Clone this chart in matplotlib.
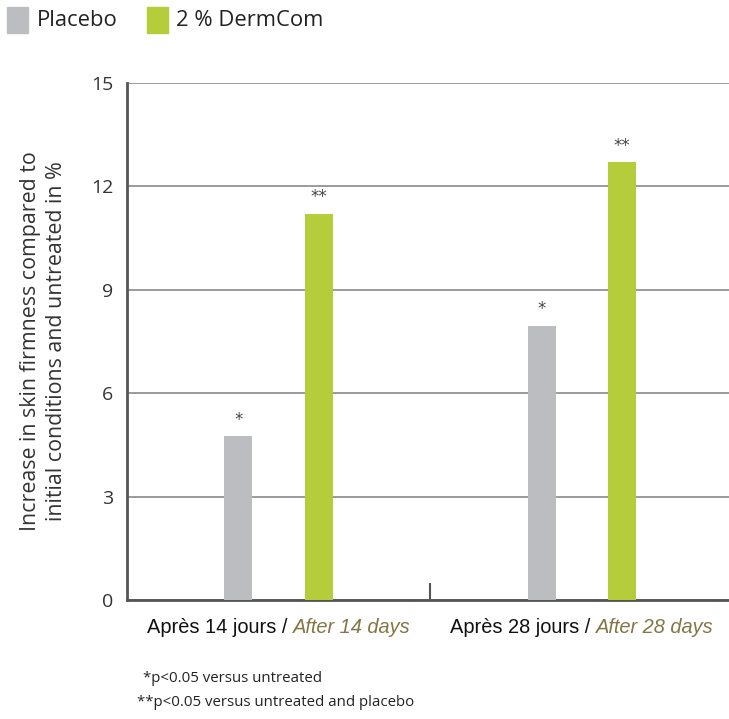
import numpy as np
import matplotlib
matplotlib.use('Agg')
import matplotlib.pyplot as plt
from matplotlib.patches import Rectangle

groups = ['Après 14 jours / ', 'Après 28 jours / ']
groupsEn = ['After 14 days', 'After 28 days']
seriesNames = ['Placebo', '2 % DermCom']
placebo = [4.75, 7.95]
dermcom = [11.2, 12.7]
placeboStars = ['*', '*']
dermcomStars = ['**', '**']
yTicks = [0, 3, 6, 9, 12, 15]
footnotes = ['*p<0.05 versus untreated', '**p<0.05 versus untreated and placebo']

greyColor = '#bcbdc0'
greenColor = '#b5cd3a'
olive = '#857543'

W, H = 729, 719
fig = plt.figure(figsize=(W / 100, H / 100), dpi=100)
fig.patch.set_facecolor('white')

axLeft, axRight, axTop, axBottom = 127, 729, 83, 600
ax = fig.add_axes([axLeft / W, 1 - axBottom / H, (axRight - axLeft) / W, (axBottom - axTop) / H])

x = np.arange(len(groups))
barWidth = 0.092
offset = 0.133
ax.bar(x - offset, placebo, barWidth, color=greyColor, zorder=3)
ax.bar(x + offset, dermcom, barWidth, color=greenColor, zorder=3)

for i in range(len(groups)):
    ax.text(x[i] - offset, placebo[i] + 0.22, placeboStars[i], ha='center', va='bottom',
            fontsize=12, color='#444444', family='DejaVu Sans')
    ax.text(x[i] + offset, dermcom[i] + 0.22, dermcomStars[i], ha='center', va='bottom',
            fontsize=12, color='#444444', family='DejaVu Sans')

ax.set_xlim(-0.5, 1.485)
ax.set_ylim(0, 15)
ax.set_yticks(yTicks)
ax.set_yticklabels([str(t) for t in yTicks], family='Open Sans', fontsize=14, color='#333333')
ax.tick_params(axis='y', length=0, pad=10)
ax.yaxis.grid(True, color='#8a8a8a', linewidth=1.2, zorder=0)
ax.set_axisbelow(True)

ax.set_xticks([0.5])
ax.set_xticklabels([''])
ax.tick_params(axis='x', direction='in', length=12, width=1.5, color='#555555')

for s in ['top', 'right']:
    ax.spines[s].set_visible(False)
for s in ['left', 'bottom']:
    ax.spines[s].set_color('#555555')
    ax.spines[s].set_linewidth(2)

ax.set_ylabel('Increase in skin firmness compared to\ninitial conditions and untreated in %',
              family='Open Sans', fontsize=15.4, color='#333333', labelpad=17, linespacing=1.3)

# category labels, french part plain + english part italic olive
for i in range(len(groups)):
    t1 = fig.text(0, 0, groups[i], family='Liberation Sans', fontsize=14.4, color='#111111')
    t2 = fig.text(0, 0, groupsEn[i], family='Liberation Sans', fontsize=14.4, style='italic', color=olive)
    fig.canvas.draw()
    r = fig.canvas.get_renderer()
    w1 = t1.get_window_extent(r).width
    w2 = t2.get_window_extent(r).width
    cx = ax.transData.transform((x[i], 0))[0]
    ypix = H - 633
    start = cx - (w1 + w2) / 2
    t1.set_position((start / W, ypix / H))
    t2.set_position(((start + w1) / W, ypix / H))

# legend at the top
fig.add_artist(Rectangle((7 / W, 1 - 33 / H), 21 / W, 26 / H, color=greyColor, transform=fig.transFigure))
fig.text(37 / W, 1 - 20 / H, seriesNames[0], family='Open Sans', fontsize=15.8, color='#222222', va='center')
fig.add_artist(Rectangle((147 / W, 1 - 33 / H), 21 / W, 26 / H, color=greenColor, transform=fig.transFigure))
fig.text(176 / W, 1 - 20 / H, seriesNames[1], family='Open Sans', fontsize=15.8, color='#222222', va='center')

fig.text(143 / W, 1 - 678 / H, footnotes[0], family='Open Sans', fontsize=10.8, color='#222222', va='center')
fig.text(137 / W, 1 - 702 / H, footnotes[1], family='Open Sans', fontsize=10.8, color='#222222', va='center')

fig.savefig('out.png', dpi=100, facecolor='white')
